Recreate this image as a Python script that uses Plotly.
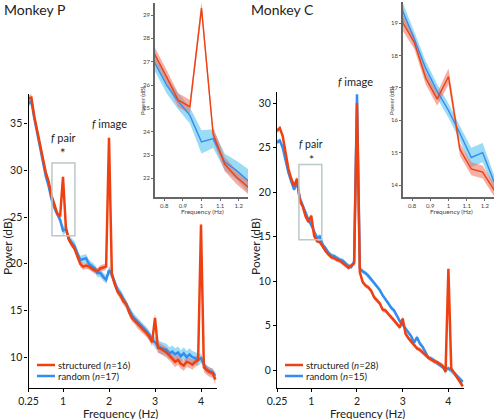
import plotly.graph_objects as go

W, H = 496, 419
def px(x): return x / W
def py(y): return 1 - y / H

# ---------------- data (frequency grid 1/16 Hz) ----------------
freq = [0.25, 0.3125, 0.375, 0.4375, 0.5, 0.5625, 0.625, 0.6875, 0.75, 0.8125,
        0.875, 0.9375, 1.0, 1.0625, 1.125, 1.1875, 1.25, 1.3125, 1.375, 1.4375,
        1.5, 1.5625, 1.625, 1.6875, 1.75, 1.8125, 1.875, 1.9375, 2.0, 2.0625,
        2.125, 2.1875, 2.25, 2.3125, 2.375, 2.4375, 2.5, 2.5625, 2.625, 2.6875,
        2.75, 2.8125, 2.875, 2.9375, 3.0, 3.0625, 3.125, 3.1875, 3.25, 3.3125,
        3.375, 3.4375, 3.5, 3.5625, 3.625, 3.6875, 3.75, 3.8125, 3.875, 3.9375,
        4.0, 4.0625, 4.125, 4.1875, 4.25, 4.3125]

# Monkey P
p_struct = [37.7, 37.8, 35.8, 34.3, 32.9, 31.5, 29.8, 28.8, 27.3, 26.35,
            25.35, 25.07, 29.3, 23.9, 22.6, 22.06, 21.63, 20.8, 20.0, 19.7,
            19.8, 19.7, 19.5, 19.3, 19.2, 19.5, 19.6, 19.7, 33.5, 18.8,
            17.8, 17.0, 16.6, 16.0, 15.7, 14.8, 14.2, 13.9, 13.5, 13.3,
            12.9, 12.6, 12.2, 11.6, 14.2, 11.0, 10.9, 10.7, 10.5, 10.2,
            9.9, 9.5, 9.7, 9.3, 9.1, 9.5, 9.4, 9.2, 9.5, 9.7,
            24.2, 8.9, 8.6, 8.4, 8.3, 7.6]
p_struct_err = [0.35, 0.35, 0.35, 0.35, 0.35, 0.35, 0.35, 0.35, 0.3, 0.3,
                0.3, 0.3, 0.3, 0.3, 0.3, 0.3, 0.3, 0.35, 0.35, 0.35,
                0.35, 0.35, 0.35, 0.35, 0.35, 0.35, 0.35, 0.35, 0.35, 0.35,
                0.35, 0.35, 0.4, 0.4, 0.4, 0.4, 0.4, 0.4, 0.45, 0.45,
                0.45, 0.45, 0.45, 0.45, 0.5, 0.55, 0.55, 0.55, 0.55, 0.55,
                0.55, 0.55, 0.55, 0.55, 0.55, 0.55, 0.55, 0.55, 0.55, 0.55,
                0.55, 0.5, 0.5, 0.5, 0.5, 0.5]
p_rand = [37.2, 37.4, 35.6, 34.0, 32.6, 31.1, 29.4, 28.3, 26.93, 26.0,
          25.3, 24.7, 23.56, 23.7, 22.7, 22.35, 21.9, 21.1, 20.4, 20.5,
          20.6, 20.0, 19.7, 19.5, 19.0, 19.0, 18.6, 18.3, 19.3, 18.9,
          18.0, 17.2, 16.8, 16.2, 15.6, 15.0, 14.5, 14.1, 13.8, 13.5,
          13.1, 12.8, 12.4, 11.9, 11.6, 11.2, 11.0, 10.9, 10.8, 10.4,
          10.6, 10.3, 10.5, 10.1, 10.4, 10.0, 10.3, 10.0, 9.9, 9.7,
          9.9, 9.2, 8.7, 8.5, 8.4, 8.0]
p_rand_err = [0.35, 0.35, 0.35, 0.35, 0.35, 0.35, 0.35, 0.35, 0.35, 0.35,
              0.35, 0.35, 0.5, 0.4, 0.35, 0.4, 0.5, 0.45, 0.45, 0.45,
              0.45, 0.45, 0.45, 0.45, 0.45, 0.45, 0.45, 0.45, 0.45, 0.45,
              0.45, 0.45, 0.45, 0.45, 0.45, 0.45, 0.45, 0.45, 0.45, 0.45,
              0.45, 0.45, 0.45, 0.45, 0.6, 0.65, 0.65, 0.65, 0.65, 0.65,
              0.65, 0.65, 0.65, 0.65, 0.65, 0.65, 0.65, 0.65, 0.65, 0.65,
              0.5, 0.4, 0.4, 0.4, 0.4, 0.4]

# Monkey C
c_struct = [26.9, 27.2, 26.3, 24.5, 22.6, 21.5, 20.7, 21.5, 19.0, 18.4,
            17.3, 16.65, 17.35, 15.1, 14.5, 14.4, 13.85, 13.4, 13.0, 12.7,
            12.6, 12.4, 12.3, 12.1, 11.8, 11.5, 11.7, 12.0, 30.0, 11.0,
            9.9, 9.5, 9.3, 8.9, 8.2, 7.8, 7.5, 6.8, 6.7, 6.3,
            6.0, 5.6, 5.2, 4.8, 5.8, 4.1, 3.6, 3.2, 2.9, 2.45,
            2.3, 2.05, 1.7, 1.4, 1.2, 1.0, 0.9, 0.7, 0.5, -0.2,
            11.4, 0.2, -0.3, -0.8, -1.2, -1.8]
c_struct_err = [0.25, 0.25, 0.25, 0.25, 0.25, 0.25, 0.25, 0.25, 0.25, 0.2,
                0.2, 0.2, 0.25, 0.2, 0.2, 0.2, 0.2, 0.25, 0.25, 0.25,
                0.25, 0.25, 0.25, 0.25, 0.25, 0.25, 0.25, 0.25, 0.25, 0.25,
                0.25, 0.25, 0.25, 0.25, 0.25, 0.25, 0.25, 0.25, 0.25, 0.25,
                0.25, 0.25, 0.25, 0.25, 0.25, 0.25, 0.25, 0.25, 0.25, 0.25,
                0.25, 0.25, 0.25, 0.25, 0.25, 0.25, 0.25, 0.25, 0.25, 0.25,
                0.25, 0.25, 0.25, 0.25, 0.25, 0.25]
c_rand = [25.6, 25.8, 25.0, 23.5, 22.2, 21.2, 20.3, 21.1, 19.35, 18.5,
          17.6, 16.9, 16.3, 15.6, 14.85, 15.0, 14.1, 13.7, 13.2, 12.9,
          12.8, 12.6, 12.4, 12.3, 12.0, 11.7, 11.6, 12.2, 31.0, 11.4,
          11.1, 10.9, 10.6, 10.2, 9.8, 9.4, 9.0, 8.4, 8.0, 7.5,
          7.0, 6.7, 6.1, 5.5, 5.1, 4.7, 4.2, 3.8, 3.1, 3.7,
          3.0, 2.6, 2.0, 1.4, 1.3, 1.1, 0.8, 0.6, 0.4, 0.1,
          0.2, 0.0, -0.3, -0.6, -1.0, -1.3]
c_rand_err = [0.25, 0.25, 0.25, 0.25, 0.25, 0.25, 0.25, 0.25, 0.25, 0.22,
              0.22, 0.22, 0.22, 0.22, 0.3, 0.3, 0.22, 0.25, 0.25, 0.25,
              0.25, 0.25, 0.25, 0.25, 0.25, 0.25, 0.25, 0.25, 0.25, 0.25,
              0.25, 0.25, 0.25, 0.25, 0.25, 0.25, 0.25, 0.25, 0.25, 0.25,
              0.25, 0.25, 0.25, 0.25, 0.25, 0.25, 0.25, 0.25, 0.25, 0.25,
              0.25, 0.25, 0.25, 0.25, 0.25, 0.25, 0.25, 0.25, 0.25, 0.25,
              0.25, 0.25, 0.25, 0.25, 0.25, 0.25]

main_xticks = [0.25, 1, 2, 3, 4]
main_xticklabels = ["0.25", "1", "2", "3", "4"]
p_yticks = [10, 15, 20, 25, 30, 35]
c_yticks = [0, 5, 10, 15, 20, 25, 30]
inset_xticks = [0.8, 0.9, 1.0, 1.1, 1.2]
inset_xticklabels = ["0.8", "0.9", "1", "1.1", "1.2"]
p_inset_yticks = [22, 23, 24, 25, 26, 27, 28, 29]
c_inset_yticks = [14, 15, 16, 17, 18, 19]
n_struct = {"P": 16, "C": 28}
n_rand = {"P": 17, "C": 15}

RED = "rgb(238,64,16)"
BLUE = "rgb(52,140,240)"
RED_BAND = "rgba(238,110,90,0.55)"
BLUE_BAND = "rgba(100,200,240,0.65)"
FONT = "Lato"

fig = go.Figure()

def add_series(y, err, color, band, xa, ya, lw):
    up = [v + e for v, e in zip(y, err)]
    lo = [v - e for v, e in zip(y, err)]
    fig.add_trace(go.Scatter(x=freq + freq[::-1], y=up + lo[::-1], fill="toself",
                             fillcolor=band, line=dict(width=0), mode="lines",
                             hoverinfo="skip", showlegend=False, xaxis=xa, yaxis=ya))
    return dict(x=freq, y=y, mode="lines", line=dict(color=color, width=lw),
                showlegend=False, xaxis=xa, yaxis=ya)

for (s, se, r, re), (xa, ya), lw in [
        ((p_struct, p_struct_err, p_rand, p_rand_err), ("x", "y"), 2.5),
        ((c_struct, c_struct_err, c_rand, c_rand_err), ("x2", "y2"), 2.5),
        ((p_struct, p_struct_err, p_rand, p_rand_err), ("x3", "y3"), 1.4),
        ((c_struct, c_struct_err, c_rand, c_rand_err), ("x4", "y4"), 1.4)]:
    rb = add_series(r, re, BLUE, BLUE_BAND, xa, ya, lw)
    sb = add_series(s, se, RED, RED_BAND, xa, ya, lw)
    fig.add_trace(go.Scatter(**rb))
    fig.add_trace(go.Scatter(**sb))

main_axis = dict(showgrid=False, zeroline=False, showline=True, linecolor="black",
                 linewidth=1.2, ticks="outside", ticklen=3, tickcolor="black",
                 automargin=False,
                 tickfont=dict(size=10.5, color="#222", family=FONT))
inset_axis = dict(showgrid=False, zeroline=False, showline=True, linecolor="#666",
                  linewidth=1.6, ticks="outside", ticklen=2, tickcolor="#666",
                  automargin=False,
                  tickfont=dict(size=6, color="#444", family=FONT))

fig.update_layout(
    width=W, height=H, margin=dict(l=0, r=0, t=0, b=0, pad=0, autoexpand=False),
    paper_bgcolor="white", plot_bgcolor="rgba(0,0,0,0)",
    font=dict(family=FONT, color="#222"),
    xaxis=dict(main_axis, domain=[px(28.5), px(217.1)], range=[0.25, 4.35], anchor="y",
               tickvals=main_xticks, ticktext=main_xticklabels),
    yaxis=dict(main_axis, domain=[py(388), py(93.8)], range=[6.7, 38.2], anchor="x",
               tickvals=p_yticks),
    xaxis2=dict(main_axis, domain=[px(277), px(464.4)], range=[0.25, 4.35], anchor="y2",
                tickvals=main_xticks, ticktext=main_xticklabels),
    yaxis2=dict(main_axis, domain=[py(388), py(91.6)], range=[-2, 31.3], anchor="x2",
                tickvals=c_yticks),
    xaxis3=dict(inset_axis, domain=[px(155), px(248)], range=[0.75, 1.25], anchor="y3",
                tickvals=inset_xticks, ticktext=inset_xticklabels),
    yaxis3=dict(inset_axis, domain=[py(197), py(3.4)], range=[21.2, 29.5], anchor="x3",
                tickvals=p_inset_yticks),
    xaxis4=dict(inset_axis, domain=[px(403), px(494)], range=[0.75, 1.25], anchor="y4",
                tickvals=inset_xticks, ticktext=inset_xticklabels),
    yaxis4=dict(inset_axis, domain=[py(197), py(2)], range=[13.63, 19.65], anchor="x4",
                tickvals=c_inset_yticks),
)

# gray boxes marking the inset region
BOX = "rgb(185,200,200)"
fig.add_shape(type="rect", xref="x", yref="y", x0=0.76, x1=1.26, y0=23.0, y1=30.8,
              line=dict(color=BOX, width=1.5))
fig.add_shape(type="rect", xref="x2", yref="y2", x0=0.73, x1=1.23, y0=14.66, y1=23.1,
              line=dict(color=BOX, width=1.5))

ann = []
def text(x, y, t, size=11, angle=0, anchor="center", color="#222"):
    ann.append(dict(x=px(x), y=py(y), xref="paper", yref="paper", text=t, showarrow=False,
                    font=dict(size=size, family=FONT, color=color), textangle=angle,
                    xanchor=anchor, yanchor="middle", borderpad=0))

text(3, 9, "Monkey P", 14, anchor="left")
text(250, 9, "Monkey C", 14, anchor="left")
# main axis titles
text(7, 247, "Power (dB)", 12, angle=-90)
text(255, 247, "Power (dB)", 12, angle=-90)
text(120, 413, "Frequency (Hz)", 11.5)
text(367, 413, "Frequency (Hz)", 11.5)
# inset titles
text(142, 101, "Power (dB)", 6, angle=-90, color="#444")
text(391, 101, "Power (dB)", 6, angle=-90, color="#444")
text(202, 212, "Frequency (Hz)", 6.5, color="#444")
text(451, 212, "Frequency (Hz)", 6.5, color="#444")
# labels
text(63, 137, "<i>f</i> pair", 11)
text(63, 153, "*", 13)
text(109, 123, "<i>f</i> image", 11)
text(311, 144, "<i>f</i> pair", 10.5)
text(311, 159, "*", 12)
text(355, 81, "<i>f</i> image", 11)
# legends
for key, lx, ly in [("P", 37, 365), ("C", 285, 365)]:
    fig.add_shape(type="line", xref="paper", yref="paper", x0=px(lx), x1=px(lx + 18),
                  y0=py(ly), y1=py(ly), line=dict(color=RED, width=2.5))
    fig.add_shape(type="line", xref="paper", yref="paper", x0=px(lx), x1=px(lx + 18),
                  y0=py(ly + 11), y1=py(ly + 11), line=dict(color=BLUE, width=2.5))
    text(lx + 20, ly, f"structured (<i>n</i>={n_struct[key]})", 9.5, anchor="left")
    text(lx + 20, ly + 11, f"random (<i>n</i>={n_rand[key]})", 9.5, anchor="left")

fig.update_layout(annotations=ann)
fig.write_html("out.html", config={"displayModeBar": False},
               post_script="document.body.style.margin='0px';document.body.style.overflow='hidden';")
